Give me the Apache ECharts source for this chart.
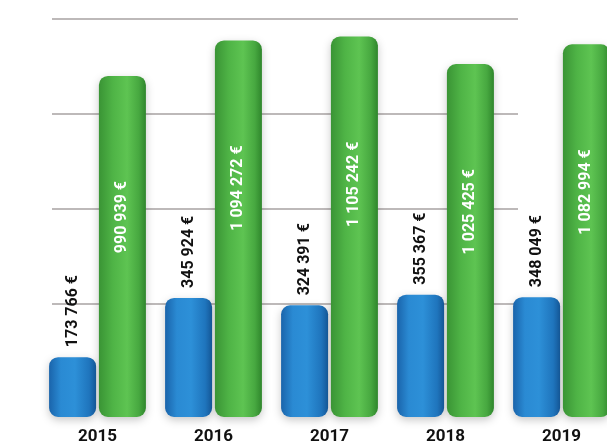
<!DOCTYPE html>
<html><head><meta charset="utf-8">
<script src="https://cdn.jsdelivr.net/npm/echarts@6/dist/echarts.min.js"></script>
<style>html,body{margin:0;padding:0;background:#fff}#c{width:607px;height:442px}</style>
</head><body><div id="c"></div>
<script>
const years = ['2015', '2016', '2017', '2018', '2019'];
const blueValues = [173766, 345924, 324391, 355367, 348049];
const greenValues = [990939, 1094272, 1105242, 1025425, 1082994];
const gridTicks = [0, 1, 2, 3];

function fmt(v) {
  return String(v).replace(/\B(?=(\d{3})+(?!\d))/g, ' ') + ' €';
}
const FONT = "Roboto, 'Liberation Sans Narrow', sans-serif";

const blueGrad = new echarts.graphic.LinearGradient(0, 0, 1, 0, [
  {offset: 0, color: '#1a64ab'},
  {offset: 0.25, color: '#2a8ad3'},
  {offset: 0.55, color: '#2d90d8'},
  {offset: 0.85, color: '#1f75bd'},
  {offset: 1, color: '#155a9c'}
]);
const greenGrad = new echarts.graphic.LinearGradient(0, 0, 1, 0, [
  {offset: 0, color: '#3a9435'},
  {offset: 0.3, color: '#4fb446'},
  {offset: 0.6, color: '#5ec452'},
  {offset: 0.85, color: '#47a840'},
  {offset: 1, color: '#2f862c'}
]);

const chart = echarts.init(document.getElementById('c'), null, {renderer: 'canvas'});
chart.setOption({
  animation: false,
  backgroundColor: '#ffffff',
  grid: [
    {left: 39.5, width: 580, top: 4, bottom: 25, containLabel: false, outerBoundsMode: 'none'},
    {left: 52, right: 89, top: 19, height: 285, containLabel: false, outerBoundsMode: 'none'}
  ],
  xAxis: [
    {
      type: 'category', data: years, gridIndex: 0,
      axisLine: {show: false}, axisTick: {show: false},
      axisLabel: {color: '#111', fontSize: 17, fontWeight: 'bold', fontFamily: FONT, margin: 11}
    },
    {type: 'value', gridIndex: 1, min: 0, max: 1, show: false}
  ],
  yAxis: [
    {type: 'value', gridIndex: 0, min: 0, max: 1200000, show: false, splitLine: {show: false}},
    {
      type: 'value', gridIndex: 1, min: gridTicks[0], max: gridTicks[gridTicks.length - 1], interval: 1,
      axisLine: {show: false}, axisTick: {show: false}, axisLabel: {show: false},
      splitLine: {show: true, lineStyle: {color: '#bdb9b9', width: 2}}
    }
  ],
  series: [
    {
      type: 'bar', xAxisIndex: 0, yAxisIndex: 0, data: blueValues,
      barWidth: 47, barGap: '6%', z: 3,
      itemStyle: {color: blueGrad, borderRadius: [9, 9, 9, 9],
        shadowColor: 'rgba(0,0,0,0.22)', shadowBlur: 8, shadowOffsetY: 3},
      label: {
        show: true, position: 'top', rotate: 90, align: 'left', verticalAlign: 'middle',
        distance: 10, color: '#111', fontSize: 16, fontWeight: 'bold', fontFamily: FONT,
        formatter: p => fmt(p.value)
      }
    },
    {
      type: 'bar', xAxisIndex: 0, yAxisIndex: 0, data: greenValues,
      barWidth: 47, z: 3,
      itemStyle: {color: greenGrad, borderRadius: [9, 9, 9, 9],
        shadowColor: 'rgba(0,0,0,0.22)', shadowBlur: 8, shadowOffsetY: 3},
      label: {
        show: true, position: 'insideTop', rotate: 90, align: 'right', verticalAlign: 'middle',
        distance: 105, color: '#ffffff', fontSize: 16, fontWeight: 'bold', fontFamily: FONT,
        formatter: p => fmt(p.value)
      }
    }
  ]
});
</script>
</body></html>
